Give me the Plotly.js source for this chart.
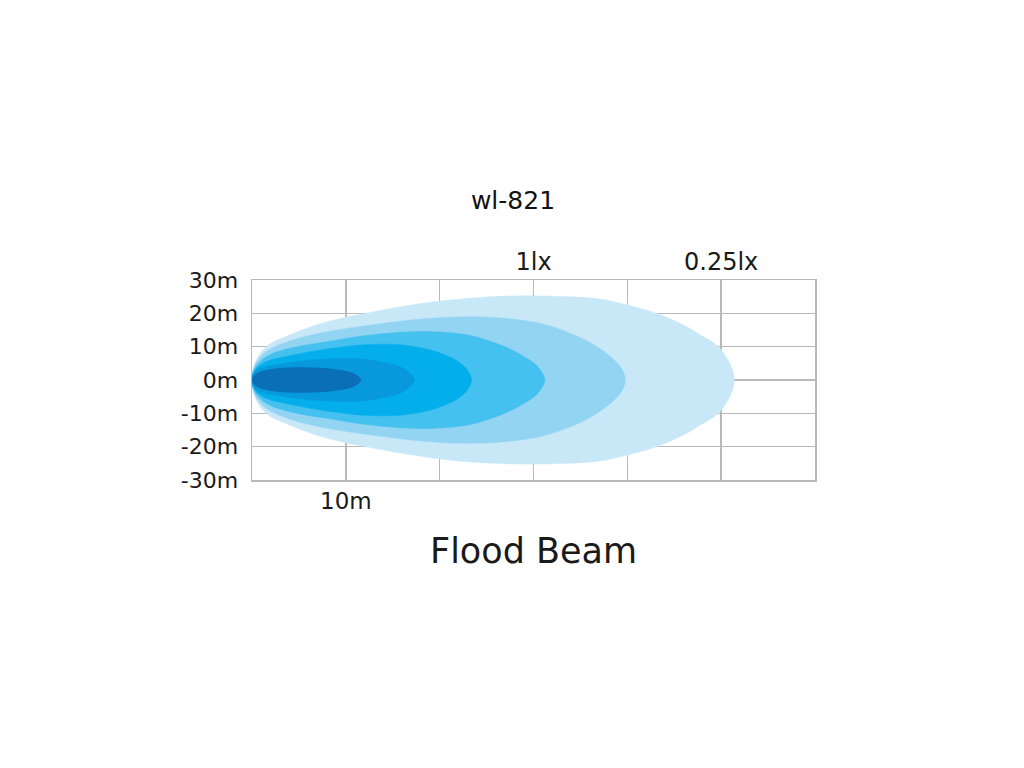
<!DOCTYPE html>
<html>
<head>
<meta charset="utf-8">
<script src="https://cdn.plot.ly/plotly-3.0.1.min.js"></script>
<style>
  html, body { margin: 0; padding: 0; background: #ffffff; }
  #chart { width: 1024px; height: 768px; }
</style>
</head>
<body>
<div id="chart"></div>
<script>
// Beam zones: distance along beam (m) and half-width of the lit area (m)
const zone1X = [0, 0.3, 1.5, 4, 8, 13, 19, 25, 31, 37, 40, 43.1, 46, 47.8, 49.7, 51, 51.4];
const zone1H = [0, 5, 10, 13.5, 17.5, 20.5, 23.3, 24.9, 25.2, 24.3, 22.5, 20, 16.5, 13.5, 10, 4.5, 0];
const zone2X = [0, 0.3, 1.5, 4, 8, 13, 18, 23, 27, 30.7, 33.5, 36, 38, 39.3, 39.8];
const zone2H = [0, 4.5, 8.5, 11.7, 14.5, 16.6, 18.3, 19, 18.5, 17, 14.5, 11.3, 7.5, 3.8, 0];
const zone3X = [0, 0.3, 1.5, 4, 8, 12, 17, 20, 23, 25.4, 27.5, 29, 30.4, 31.2];
const zone3H = [0, 3.5, 7, 9.5, 11.5, 13.3, 14.5, 14.4, 13.5, 11.6, 9.3, 7, 4.2, 0];
const zone4X = [0, 0.3, 1.5, 4, 8, 12, 16, 19.5, 22, 23, 23.4];
const zone4H = [0, 3, 5.5, 7.3, 9.3, 10.6, 10.5, 8.6, 5.5, 2.8, 0];
const zone5X = [0, 0.3, 1.5, 4, 7.5, 11, 14, 16.3, 17.3];
const zone5H = [0, 2.5, 4, 5.2, 6.2, 6.4, 5.3, 3.2, 0];
const zone6X = [0, 0.3, 1.5, 4, 7, 9.5, 11, 11.6];
const zone6H = [0, 1.5, 2.9, 3.7, 3.6, 2.9, 1.7, 0];

const zoneColors = ['#c8e8f8', '#93d4f3', '#44c1ef', '#04aeea', '#0799db', '#0b6fb8'];

const yTickVals = [30, 20, 10, 0, -10, -20, -30];
const yTickText = ['30m', '20m', '10m', '0m', '-10m', '-20m', '-30m'];
const xTickVals = [0, 10, 20, 30, 40, 50, 60];
const xTickText = ['', '10m', '', '', '', '', ''];
const luxTickVals = [30, 50];
const luxTickText = ['1lx', '0.25lx'];

const chartTitle = 'wl-821';
const beamLabel = 'Flood Beam';

// mirror the upper profile to a closed outline, starting at the widest point
function closedOutline(xs, hs) {
  const loop = [];
  for (let i = 0; i < xs.length; i++) loop.push([xs[i], hs[i]]);
  for (let i = xs.length - 2; i >= 1; i--) loop.push([xs[i], -hs[i]]);
  let imax = 0;
  hs.forEach((h, i) => { if (h > hs[imax]) imax = i; });
  const rot = loop.slice(imax).concat(loop.slice(0, imax));
  rot.push(rot[0]);
  return { px: rot.map(p => p[0]), py: rot.map(p => p[1]) };
}

const zones = [[zone1X, zone1H], [zone2X, zone2H], [zone3X, zone3H],
               [zone4X, zone4H], [zone5X, zone5H], [zone6X, zone6H]];

const traces = zones.map((z, i) => {
  const o = closedOutline(z[0], z[1]);
  return {
    type: 'scatter', mode: 'lines', x: o.px, y: o.py,
    fill: 'toself', fillcolor: zoneColors[i],
    line: { color: zoneColors[i], width: 0.5, shape: 'spline', smoothing: 1 },
    hoverinfo: 'skip', showlegend: false, xaxis: 'x', yaxis: 'y'
  };
});
// invisible trace so the top (lux) axis is drawn
traces.push({ type: 'scatter', mode: 'markers', x: [0, 60], y: [0, 0], xaxis: 'x2', yaxis: 'y',
  marker: { opacity: 0 }, hoverinfo: 'skip', showlegend: false });

const font = 'DejaVu Sans, Liberation Sans, Arial, sans-serif';
const grid = '#b9b9b9';
const ink = '#1a1a1a';

const layout = {
  width: 1024, height: 768,
  paper_bgcolor: '#ffffff', plot_bgcolor: '#ffffff',
  margin: { l: 252, r: 209, t: 280, b: 288 },
  font: { family: font, color: ink },
  title: { text: chartTitle, x: 513 / 1024, xanchor: 'center', xref: 'container',
           y: 1 - 200 / 768, yref: 'container', yanchor: 'middle',
           font: { family: font, size: 25, color: '#111111' } },
  xaxis: { range: [0, 60], tickvals: xTickVals, ticktext: xTickText,
           showgrid: true, gridcolor: grid, gridwidth: 1.5, zeroline: false,
           showline: true, linecolor: grid, linewidth: 1.5, mirror: true,
           ticks: '', ticklabelstandoff: 0,
           tickfont: { family: font, size: 23, color: ink }, fixedrange: true },
  xaxis2: { range: [0, 60], overlaying: 'x', side: 'top', tickvals: luxTickVals, ticktext: luxTickText,
            showgrid: false, zeroline: false, showline: false, ticks: '', ticklabelstandoff: 4,
            tickfont: { family: font, size: 24, color: ink }, fixedrange: true },
  yaxis: { range: [-30, 30], tickvals: yTickVals, ticktext: yTickText,
           showgrid: true, gridcolor: grid, gridwidth: 1.5, zeroline: false,
           showline: true, linecolor: grid, linewidth: 1.5, mirror: true,
           ticks: '', ticklabelstandoff: 8,
           tickfont: { family: font, size: 22, color: ink }, fixedrange: true },
  annotations: [
    { text: beamLabel, xref: 'paper', yref: 'paper', x: (533 - 252) / 563, y: -(551 - 480) / 200,
      xanchor: 'center', yanchor: 'middle', showarrow: false,
      font: { family: font, size: 35, color: ink } }
  ]
};

Plotly.newPlot('chart', traces, layout, { displayModeBar: false, staticPlot: true });
</script>
</body>
</html>
